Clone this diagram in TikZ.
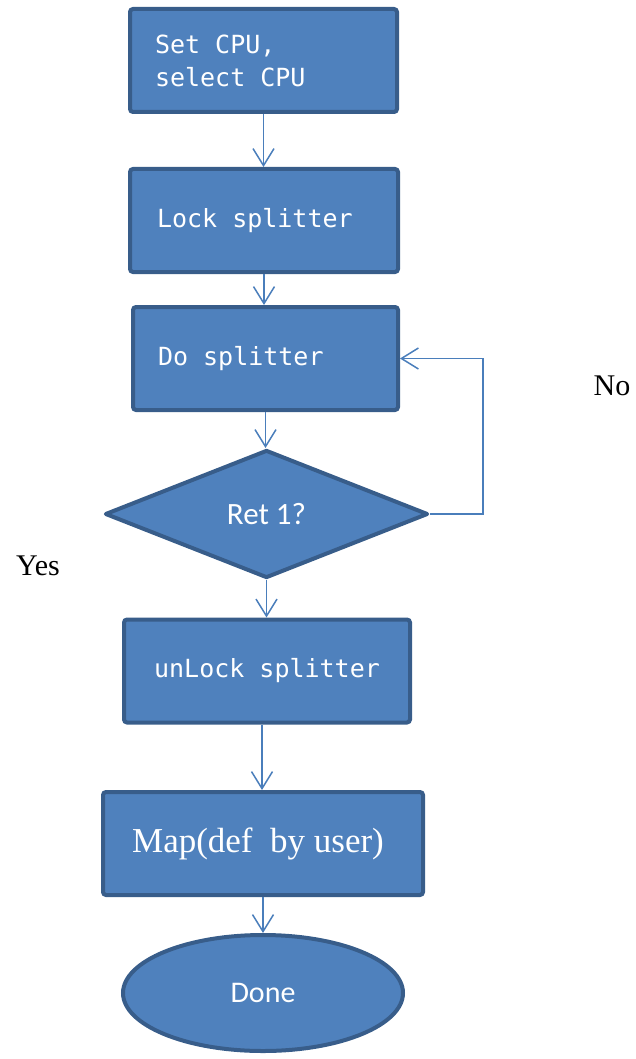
\documentclass[tikz,border=0pt]{standalone}
\usepackage{fontspec}
\setmainfont{Liberation Serif}
\setmonofont{DejaVu Sans Mono}
\newfontfamily\calibrifont{Carlito}
\usetikzlibrary{shapes.geometric,arrows.meta}

\definecolor{boxfill}{HTML}{4F81BD}
\definecolor{boxline}{HTML}{385D8A}
\definecolor{flowline}{HTML}{4A7EBB}

\tikzstyle{stepbox}=[draw=boxline, fill=boxfill, line width=4pt, rounded corners=3pt, text=white, font={\fontsize{25}{33}\selectfont\ttfamily}, minimum height=103pt, inner ysep=0pt]
\tikzstyle{leftbox}=[stepbox, align=left]
\tikzstyle{decision}=[diamond, draw=boxline, fill=boxfill, line width=4pt, line join=round, text=white, font={\fontsize{31}{36}\selectfont\calibrifont}, minimum width=323pt, minimum height=128pt, inner sep=0pt]
\tikzstyle{terminal}=[ellipse, draw=boxline, fill=boxfill, line width=4pt, text=white, font={\fontsize{30}{36}\selectfont\calibrifont}, minimum width=280pt, minimum height=116pt, inner sep=0pt]
\tikzstyle{flow}=[draw=flowline, line width=1.5pt, -{Straight Barb[length=17pt,width=21pt]}]
\tikzstyle{answer}=[font={\fontsize{30}{36}\selectfont}]

\begin{document}
\begin{tikzpicture}[x=1pt, y=-1pt]
    \useasboundingbox (0,0) rectangle (635,1059);

    % align=left shrinks spaces, so give the mono font its own space back
    \node [leftbox, text width=217pt, inner xsep=25pt] (setcpu) at (263.5,60.5) {\spaceskip=0pt Set CPU,\\select CPU};
    \node [leftbox, text width=214pt, inner xsep=27pt] (lock) at (264,220.5) {\spaceskip=0pt Lock splitter};
    \node [leftbox, text width=215pt, inner xsep=25pt] (dosplit) at (265.5,358.5) {\spaceskip=0pt Do splitter};
    \node [decision] (ret) at (266.5,514) {Ret 1?};
    \node [stepbox, minimum width=286pt] (unlock) at (267,671) {unLock splitter};
    \node [stepbox, minimum width=320pt, font={\fontsize{35}{40}\selectfont\rmfamily}] (map) at (263,843.5) {\hspace*{-10pt}Map(def\ \ by user)};
    \node [terminal] (done) at (263,993) {Done};

    \node [answer] (yes) at (38,566) {Yes};
    \node [answer] (no) at (612,386) {No};

    \draw [flow] (setcpu.south) -- (setcpu.south |- lock.north);
    \draw [flow] (lock.south) -- (lock.south |- dosplit.north);
    \draw [flow] (dosplit.south) -- (dosplit.south |- ret.north);
    \draw [flow] (ret.south) -- (ret.south |- unlock.north);
    \draw [flow] ([xshift=-5pt]unlock.south) -- ([xshift=-5pt]unlock.south |- map.north);
    \draw [flow] (map.south) -- (map.south |- done.north);
    \draw [flow] (ret.east) -- ++(53,0) |- (dosplit.east);
\end{tikzpicture}
\end{document}
